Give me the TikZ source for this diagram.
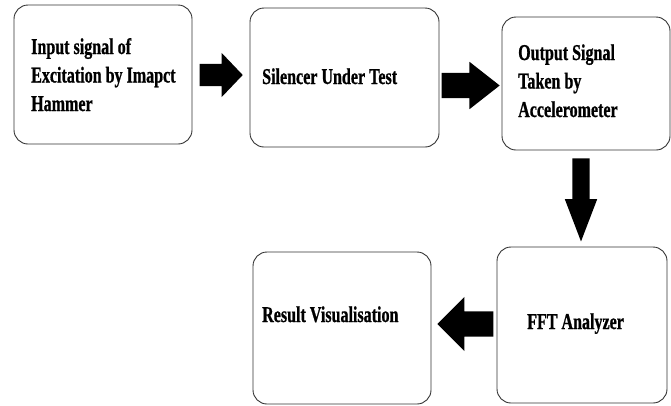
\documentclass[tikz,border=0pt]{standalone}
\usepackage{fontspec}
\setmainfont{Liberation Serif}[FakeStretch=0.71, BoldFeatures={FakeStretch=0.71, FakeBold=0.8}]
\usetikzlibrary{shapes.arrows}
\tikzset{
  blk/.style={draw=black!80, line width=0.9pt, rounded corners=14pt, inner sep=0pt},
  lbl/.style={anchor=base west, inner sep=0pt, align=left,
    font=\fontsize{22.6}{28.5}\selectfont\bfseries},
  barrow/.style={single arrow, fill=black, draw=none, inner xsep=0pt,
    single arrow head indent=0pt, anchor=tip},
}
\begin{document}
\begin{tikzpicture}[x=1pt,y=-1pt]
\useasboundingbox (0,0) rectangle (671,405);
% boxes
\node[blk, minimum width=178pt, minimum height=139pt] (b1) at (103,74.5) {};
\node[blk, minimum width=189pt, minimum height=139pt] (b2) at (344.5,77.5) {};
\node[blk, minimum width=168pt, minimum height=133pt] (b3) at (586,83.5) {};
\node[blk, minimum width=170pt, minimum height=156pt] (b4) at (582,325) {};
\node[blk, minimum width=178pt, minimum height=152pt] (b5) at (342,328) {};
% texts (base = baseline of last line)
\node[lbl] (t1) at (31,111) {Input signal of\\Excitation by Imapct\\Hammer};
\node[lbl] (t2) at (262,84) {Silencer Under Test};
\node[lbl] (t3) at (518,117) {Output Signal\\Taken by\\Accelerometer};
\node[lbl] (t4) at (527,329) {FFT Analyzer};
\node[lbl] (t5) at (262,322) {Result Visualisation};
% block arrows (placed by their tips)
\node[barrow, inner ysep=11pt, minimum height=43pt, single arrow head extend=11pt,
  single arrow tip angle=92.7] (a1) at (243,75) {};
\node[barrow, inner ysep=12.5pt, minimum height=58pt, single arrow head extend=11pt,
  single arrow tip angle=76.2] (a2) at (500,85.5) {};
\node[barrow, inner ysep=8.5pt, minimum height=83pt, single arrow head extend=7.5pt,
  single arrow tip angle=41.9, rotate=-90] (a3) at (581,242) {};
\node[barrow, inner ysep=12.5pt, minimum height=56pt, single arrow head extend=14.5pt,
  single arrow tip angle=90, rotate=180] (a4) at (437,324) {};
\end{tikzpicture}
\end{document}
